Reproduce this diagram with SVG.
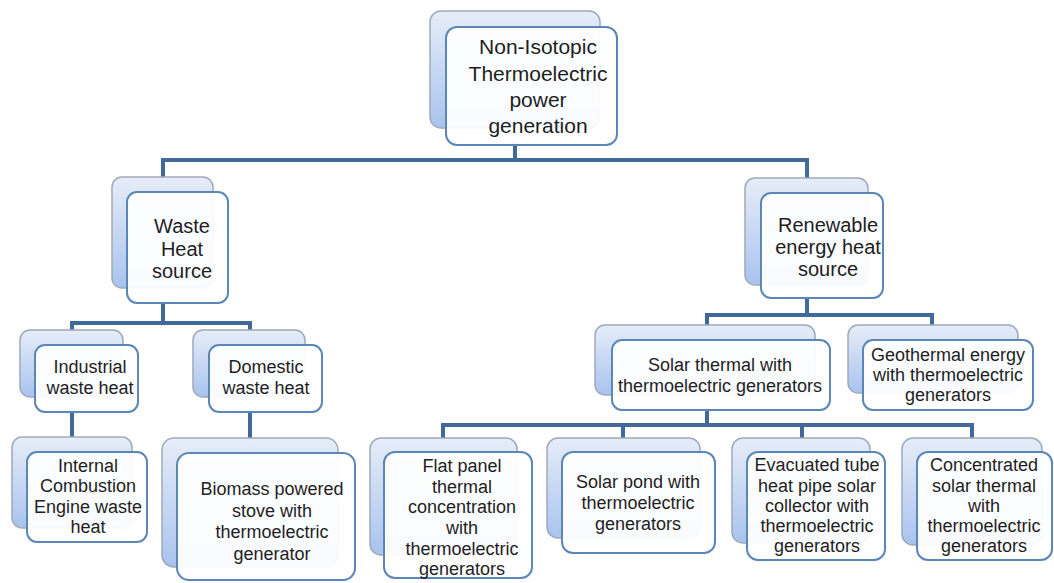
<svg xmlns="http://www.w3.org/2000/svg" width="1054" height="583" viewBox="0 0 1054 583">
<defs>
<linearGradient id="bg" x1="0" y1="0" x2="0" y2="1">
<stop offset="0" stop-color="#e6edf8"/>
<stop offset="1" stop-color="#a9c3ee"/>
</linearGradient>
<style>
.back{fill:url(#bg);stroke:#9ea9bb;stroke-width:1.5}
.front{fill:#ffffff;fill-opacity:0.93;stroke:#5b87b8;stroke-width:2}
.conn{fill:none;stroke:#41699a;stroke-width:4;stroke-linecap:square}
text{font-family:"Liberation Sans",Arial,sans-serif;fill:#1e1e1e;text-anchor:middle}
.t21{font-size:21px}.t20{font-size:20px}.t18{font-size:18px}
</style>
</defs>
<rect width="1054" height="583" fill="#ffffff"/>
<g id="connectors">
<path class="conn" d="M515 145 V160 M163 160 H807 M163 160 V177 M807 160 V178"/>
<path class="conn" d="M163 303 V323 M72 323 H250 M72 323 V330 M250 323 V330"/>
<path class="conn" d="M807 298 V315 M707 315 H932 M707 315 V325 M932 315 V325"/>
<path class="conn" d="M72 412 V437 M250 412 V438"/>
<path class="conn" d="M707 410 V425 M443 425 H972 M443 425 V438 M623 425 V438 M802 425 V438 M972 425 V438"/>
</g>
<g id="root">
<rect class="back" x="430" y="11" width="170" height="117" rx="11"/>
<rect class="front" x="446" y="27" width="171" height="118" rx="11"/>
<text class="t21"><tspan x="538" y="54">Non-Isotopic</tspan><tspan x="538" y="81">Thermoelectric</tspan><tspan x="538" y="107">power</tspan><tspan x="538" y="133">generation</tspan></text>
</g>
<g id="waste">
<rect class="back" x="112" y="177" width="101" height="111" rx="10"/>
<rect class="front" x="127" y="192" width="101" height="111" rx="10"/>
<text class="t20"><tspan x="182" y="233">Waste</tspan><tspan x="182" y="256">Heat</tspan><tspan x="182" y="278">source</tspan></text>
</g>
<g id="renewable">
<rect class="back" x="745" y="178" width="123" height="107" rx="10"/>
<rect class="front" x="761" y="193" width="122" height="105" rx="10"/>
<text class="t20"><tspan x="828" y="232">Renewable</tspan><tspan x="828" y="254">energy heat</tspan><tspan x="828" y="276">source</tspan></text>
</g>
<g id="industrial">
<rect class="back" x="20" y="330" width="103" height="67" rx="10"/>
<rect class="front" x="35" y="345" width="103" height="67" rx="10"/>
<text class="t18"><tspan x="90" y="373">Industrial</tspan><tspan x="90" y="394">waste heat</tspan></text>
</g>
<g id="domestic">
<rect class="back" x="193" y="330" width="112" height="67" rx="10"/>
<rect class="front" x="209" y="345" width="113" height="67" rx="10"/>
<text class="t18"><tspan x="266" y="373">Domestic</tspan><tspan x="266" y="394">waste heat</tspan></text>
</g>
<g id="internal">
<rect class="back" x="12" y="437" width="120" height="91" rx="10"/>
<rect class="front" x="27" y="452" width="120" height="90" rx="10"/>
<text class="t18"><tspan x="88" y="472">Internal</tspan><tspan x="88" y="492">Combustion</tspan><tspan x="88" y="513">Engine waste</tspan><tspan x="88" y="533">heat</tspan></text>
</g>
<g id="biomass">
<rect class="back" x="162" y="438" width="176" height="129" rx="12"/>
<rect class="front" x="177" y="453" width="178" height="127" rx="12"/>
<text class="t18"><tspan x="272" y="495">Biomass powered</tspan><tspan x="272" y="517">stove with</tspan><tspan x="272" y="538">thermoelectric</tspan><tspan x="272" y="560">generator</tspan></text>
</g>
<g id="solar-thermal">
<rect class="back" x="595" y="325" width="220" height="70" rx="10"/>
<rect class="front" x="612" y="340" width="218" height="70" rx="10"/>
<text class="t18"><tspan x="720" y="371">Solar thermal with</tspan><tspan x="720" y="392">thermoelectric generators</tspan></text>
</g>
<g id="geothermal">
<rect class="back" x="848" y="325" width="170" height="68" rx="10"/>
<rect class="front" x="863" y="340" width="170" height="70" rx="10"/>
<text class="t18"><tspan x="948" y="361">Geothermal energy</tspan><tspan x="948" y="381">with thermoelectric</tspan><tspan x="948" y="401">generators</tspan></text>
</g>
<g id="flat-panel">
<rect class="back" x="370" y="438" width="147" height="117" rx="11"/>
<rect class="front" x="384" y="452" width="148" height="126" rx="11"/>
<text class="t18"><tspan x="462" y="472">Flat panel</tspan><tspan x="462" y="493">thermal</tspan><tspan x="462" y="513">concentration</tspan><tspan x="462" y="534">with</tspan><tspan x="462" y="555">thermoelectric</tspan><tspan x="462" y="575">generators</tspan></text>
</g>
<g id="solar-pond">
<rect class="back" x="547" y="438" width="153" height="100" rx="11"/>
<rect class="front" x="562" y="452" width="153" height="101" rx="11"/>
<text class="t18"><tspan x="638" y="488">Solar pond with</tspan><tspan x="638" y="509">thermoelectric</tspan><tspan x="638" y="530">generators</tspan></text>
</g>
<g id="evacuated">
<rect class="back" x="732" y="438" width="138" height="105" rx="11"/>
<rect class="front" x="747" y="452" width="138" height="108" rx="11"/>
<text class="t18"><tspan x="817" y="471">Evacuated tube</tspan><tspan x="817" y="492">heat pipe solar</tspan><tspan x="817" y="512">collector with</tspan><tspan x="817" y="532">thermoelectric</tspan><tspan x="817" y="552">generators</tspan></text>
</g>
<g id="concentrated">
<rect class="back" x="902" y="438" width="140" height="107" rx="11"/>
<rect class="front" x="917" y="452" width="135" height="108" rx="11"/>
<text class="t18"><tspan x="984" y="471">Concentrated</tspan><tspan x="984" y="492">solar thermal</tspan><tspan x="984" y="512">with</tspan><tspan x="984" y="532">thermoelectric</tspan><tspan x="984" y="552">generators</tspan></text>
</g>
</svg>
